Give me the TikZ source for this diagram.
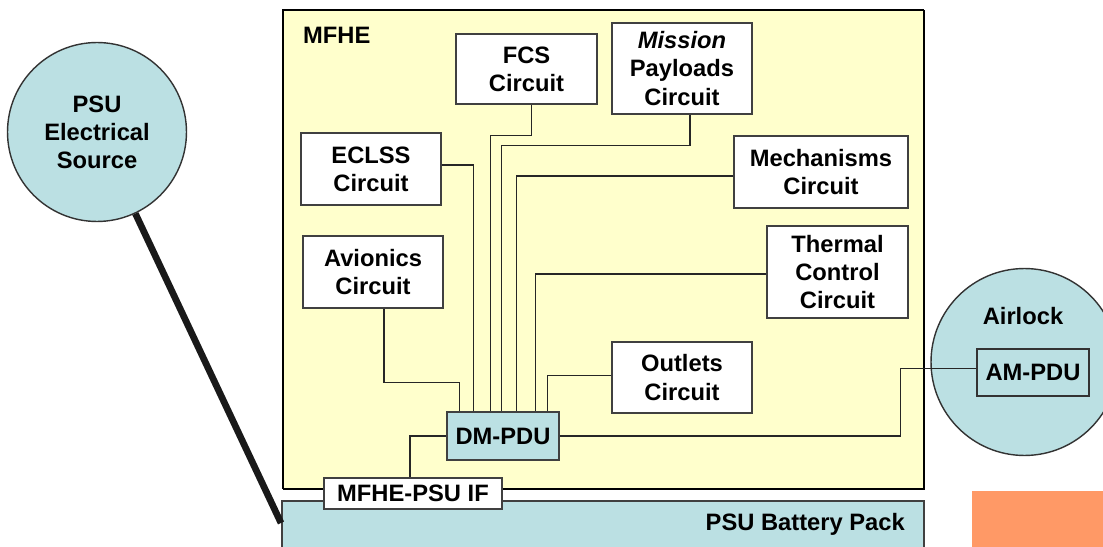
\documentclass[tikz,border=0pt]{standalone}
\usepackage{fontspec}
\setmainfont{Liberation Sans}
\usetikzlibrary{calc}
\definecolor{mfheyellow}{HTML}{FFFFCC}
\definecolor{psublue}{HTML}{BBE0E3}
\definecolor{tagorange}{HTML}{FF9966}

\begin{document}
\begin{tikzpicture}[x=0.02cm,y=-0.02cm,
    every node/.style={font=\bfseries\fontsize{13.5}{16}\selectfont},
    circuit/.style={draw=black!75,line width=0.7pt,fill=white,align=center,inner sep=0pt},
    pdubox/.style={circuit,fill=psublue},
    source/.style={circle,draw=black!80,line width=0.8pt,fill=psublue,inner sep=0pt,align=center},
    bus/.style={draw=black!85,line width=0.6pt},
    cable/.style={draw=black!90,line width=3.8pt}]
        \clip (0,0) rectangle (1103,547);
        % MFHE enclosure and battery pack
        \fill[mfheyellow] (283,10) rectangle (924,489);
        \draw[line width=0.7pt] (283,489) -- (283,10) -- (924,10);
        \draw[line width=1.5pt] (924,10) -- (924,489) -- (283,489);
        \node[anchor=west] (mfhe) at (297,35) {MFHE};
        \draw[fill=psublue,draw=black!75,line width=0.8pt] (282,501) rectangle (924,552);
        \node[anchor=east] (pack) at (911,524) {PSU Battery Pack};
        \coordinate (packedge) at (281,523);
        \fill[tagorange] (972,491) rectangle (1103,547);
        % circuits
        \node[circuit,minimum width=2.82cm,minimum height=1.4cm] (fcs) at (526.5,69) {FCS\\Circuit};
        \node[circuit,minimum width=2.8cm,minimum height=1.82cm] (msn) at (682,68.5) {\itshape Mission\\Payloads\\Circuit};
        \node[circuit,minimum width=2.8cm,minimum height=1.44cm] (eclss) at (371,169) {ECLSS\\Circuit};
        \node[circuit,minimum width=2.8cm,minimum height=1.44cm] (avio) at (373,272) {Avionics\\Circuit};
        \node[circuit,minimum width=3.48cm,minimum height=1.44cm] (mech) at (821,172) {Mechanisms\\Circuit};
        \node[circuit,minimum width=2.82cm,minimum height=1.84cm] (therm) at (837.5,272) {Thermal\\Control\\Circuit};
        \node[circuit,minimum width=2.8cm,minimum height=1.42cm] (outl) at (682,377.5) {Outlets\\Circuit};
        \node[pdubox,minimum width=2.24cm,minimum height=0.96cm] (dmpdu) at (503,436) {DM-PDU};
        \node[circuit,minimum width=3.56cm,minimum height=0.62cm] (psuif) at (413,493.5) {MFHE-PSU IF};
        % sources
        \node[source,minimum size=3.58cm] (psu) at (97,132) {PSU\\Electrical\\Source};
        \node[source,minimum size=3.74cm] (airlock) at (1024.5,362) {};
        \node (airlocklbl) at (1023,316) {Airlock};
        \node[pdubox,draw=black!80,minimum width=2.24cm,minimum height=0.94cm] (ampdu) at (1033,372.5) {AM-PDU};
        % power feeds into the DM-PDU
        \draw[bus] ($(avio.south)+(11,0)$) -- ++(0,74) -| ($(dmpdu.north west)+(13,0)$);
        \draw[bus] ($(eclss.east)+(0,-4)$) -| ($(dmpdu.north west)+(27,0)$);
        \draw[bus] ($(fcs.south)+(5,0)$) -- ++(0,31) -| ($(dmpdu.north west)+(44,0)$);
        \draw[bus] ($(msn.south)+(8,0)$) -- ++(0,31) -| ($(dmpdu.north west)+(55,0)$);
        \draw[bus] ($(mech.west)+(0,4)$) -| ($(dmpdu.north west)+(70,0)$);
        \draw[bus] ($(therm.west)+(0,2)$) -| ($(dmpdu.north west)+(89,0)$);
        \draw[bus] ($(outl.west)+(0,-2)$) -| ($(dmpdu.north west)+(101,0)$);
        \draw[bus] (dmpdu.east) -- ++(341,0) |- ($(ampdu.west)+(0,-4)$);
        \draw[bus] ($(psuif.north)+(-3,0)$) |- (dmpdu.west);
        \draw[cable] (psu) -- (packedge);
      \end{tikzpicture}
\end{document}
